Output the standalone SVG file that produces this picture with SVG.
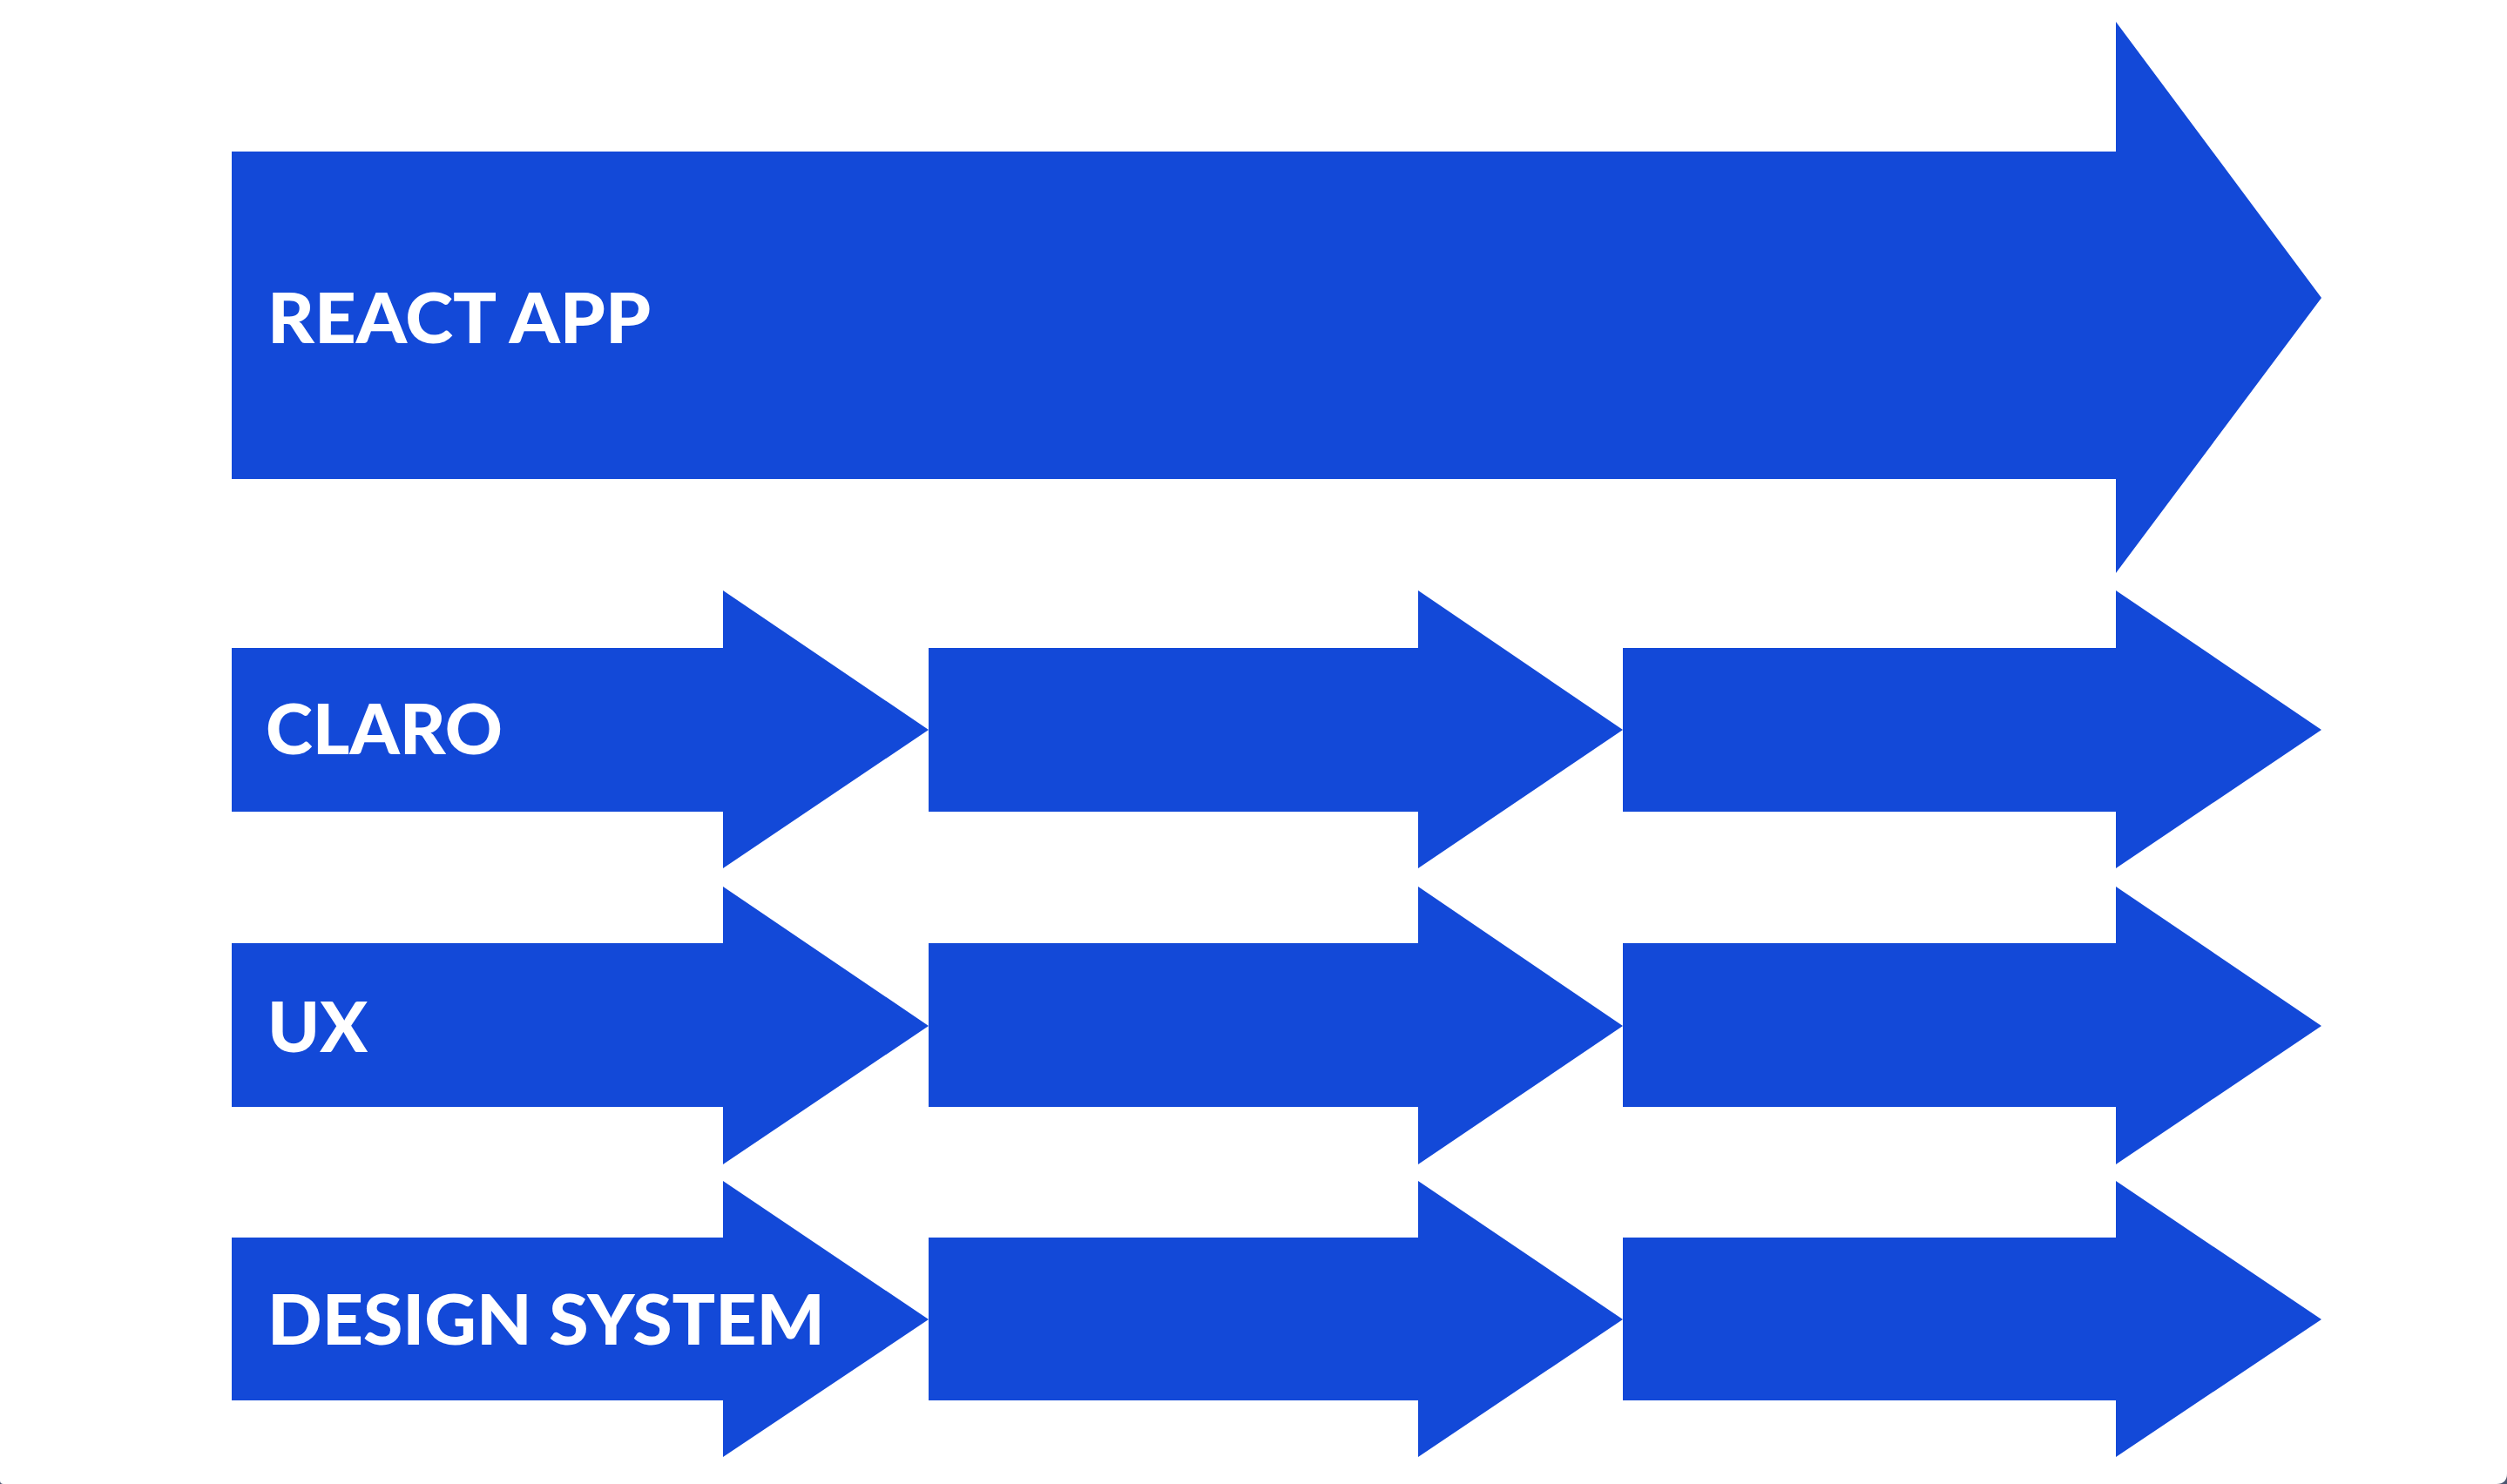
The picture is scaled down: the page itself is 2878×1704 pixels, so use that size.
<svg xmlns="http://www.w3.org/2000/svg" width="2878" height="1704" viewBox="0 0 2878 1704">
  <style>
    .arrow { fill: #1349D8; }
    .label { fill: #FFFFFF; font-family: Lato, "Liberation Sans", sans-serif; font-weight: 900; font-size: 80px; }
  </style>
  <rect x="0" y="0" width="2878" height="1704" fill="#4a5570"/>
  <path d="M0,0 H2878 V1692 Q2878,1704 2866,1704 H4 Q0,1704 0,1700 Z" fill="#FFFFFF"/>

  <g id="react-app">
    <polygon class="arrow" points="266,174 2429,174 2429,25 2665,342 2429,658 2429,550 266,550"/>
    <text class="label" x="307" y="394" textLength="440" lengthAdjust="spacingAndGlyphs">REACT APP</text>
  </g>

  <g id="claro">
    <polygon class="arrow" points="266,744 830,744 830,678 1066,838 830,997 830,932 266,932"/>
    <polygon class="arrow" points="1066,744 1628,744 1628,678 1863,838 1628,997 1628,932 1066,932"/>
    <polygon class="arrow" points="1863,744 2429,744 2429,678 2665,838 2429,997 2429,932 1863,932"/>
    <text class="label" x="305" y="866" textLength="272" lengthAdjust="spacingAndGlyphs">CLARO</text>
  </g>

  <g id="ux">
    <polygon class="arrow" points="266,1083 830,1083 830,1018 1066,1178 830,1337 830,1271 266,1271"/>
    <polygon class="arrow" points="1066,1083 1628,1083 1628,1018 1863,1178 1628,1337 1628,1271 1066,1271"/>
    <polygon class="arrow" points="1863,1083 2429,1083 2429,1018 2665,1178 2429,1337 2429,1271 1863,1271"/>
    <text class="label" x="307" y="1208" textLength="115" lengthAdjust="spacingAndGlyphs">UX</text>
  </g>

  <g id="design-system">
    <polygon class="arrow" points="266,1421 830,1421 830,1356 1066,1515 830,1673 830,1608 266,1608"/>
    <polygon class="arrow" points="1066,1421 1628,1421 1628,1356 1863,1515 1628,1673 1628,1608 1066,1608"/>
    <polygon class="arrow" points="1863,1421 2429,1421 2429,1356 2665,1515 2429,1673 2429,1608 1863,1608"/>
    <text class="label" x="307" y="1544" textLength="640" lengthAdjust="spacingAndGlyphs">DESIGN SYSTEM</text>
  </g>

  <g id="connectors"></g>
</svg>
